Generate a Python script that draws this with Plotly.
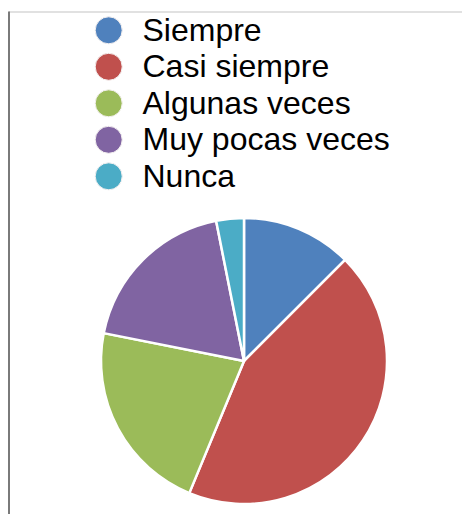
import plotly.graph_objects as go

categories = ["Siempre", "Casi siempre", "Algunas veces", "Muy pocas veces", "Nunca"]
values = [4, 14, 7, 6, 1]
colors = ["#4F81BD", "#C0504D", "#9BBB59", "#8064A2", "#4BACC6"]

W, H = 470, 514
OX, OY = 8, 8  # page body offset

fig = go.Figure()

cx, cy, r = 244 - OX, 361 - OY, 143
fig.add_trace(go.Pie(
    labels=categories,
    values=values,
    sort=False,
    direction="clockwise",
    rotation=0,
    marker=dict(colors=colors, line=dict(color="white", width=2.5)),
    textinfo="none",
    hoverinfo="label+value+percent",
    showlegend=False,
    domain=dict(x=[(cx - r) / W, (cx + r) / W],
                y=[(H - cy - r) / H, (H - cy + r) / H]),
))

# legend drawn as scatter traces (large circular markers + labels)
n = len(categories)
fig.add_trace(go.Scatter(
    x=[0] * n,
    y=list(range(n)),
    mode="markers",
    marker=dict(size=27, color=colors, line=dict(color="#f4f0f0", width=1)),
    cliponaxis=False,
    hoverinfo="skip",
    showlegend=False,
    xaxis="x", yaxis="y",
))
fig.add_trace(go.Scatter(
    x=[0] * n,
    y=list(range(n)),
    mode="text",
    text=categories,
    textposition="middle right",
    textfont=dict(family="Liberation Sans, Arial, sans-serif", size=32, color="black"),
    cliponaxis=False,
    hoverinfo="skip",
    showlegend=False,
    xaxis="x2", yaxis="y2",
))

mx, my0, step = 108.7 - OX, 30.3 - OY, 36.5
tx, ty0 = 142.5 - OX, 32.5 - OY
fig.update_layout(
    width=W, height=H,
    margin=dict(l=0, r=0, t=0, b=0),
    paper_bgcolor="white",
    plot_bgcolor="rgba(0,0,0,0)",
    showlegend=False,
    xaxis=dict(domain=[0, 1], range=[-mx, W - mx], visible=False, fixedrange=True),
    yaxis=dict(domain=[0, 1], range=[(H - my0) / step, -my0 / step], visible=False, fixedrange=True),
    xaxis2=dict(domain=[0, 1], range=[-tx, W - tx], visible=False, fixedrange=True, anchor="y2"),
    yaxis2=dict(domain=[0, 1], range=[(H - ty0) / step, -ty0 / step], visible=False, fixedrange=True,
                anchor="x2"),
    shapes=[
        dict(type="line", xref="paper", yref="paper", x0=1 / W, x1=1, y0=1 - 4 / H, y1=1 - 4 / H,
             line=dict(color="#c4c4c4", width=1.2)),
        dict(type="line", xref="paper", yref="paper", x0=1 / W, x1=1 / W, y0=0, y1=1 - 3.5 / H,
             line=dict(color="#7a7a7a", width=2)),
    ],
)

fig.write_html("out.html")
